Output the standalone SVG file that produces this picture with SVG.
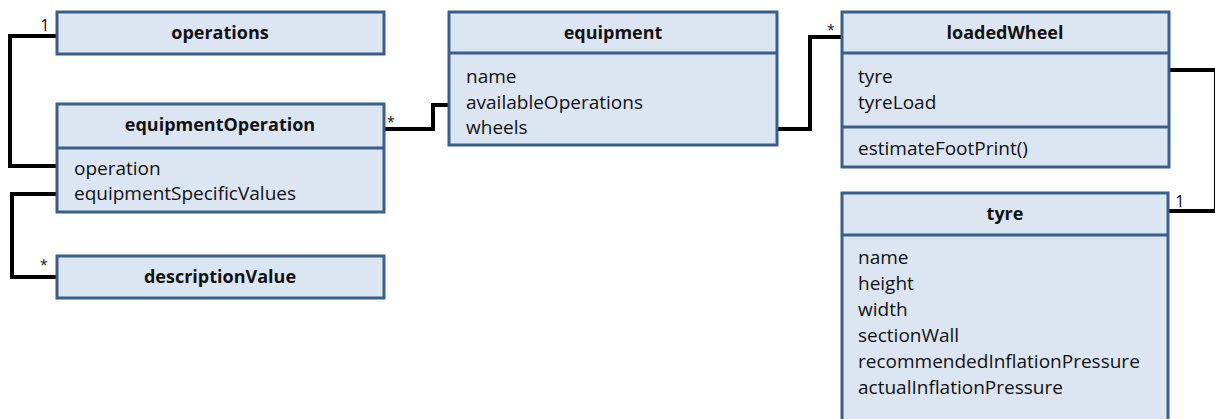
<svg xmlns="http://www.w3.org/2000/svg" width="1215" height="419" viewBox="0 0 1215 419">
<style>
.box{fill:#dce6f2;stroke:#3a5f8b;stroke-width:3}
.sep{stroke:#3a5f8b;stroke-width:3}
.t{font-family:"Open Sans","Liberation Sans",sans-serif;font-size:18px;font-weight:bold;fill:#111;text-anchor:middle}
.a{font-family:"Open Sans","Liberation Sans",sans-serif;font-size:19px;fill:#111}
.m{font-family:"Open Sans","Liberation Sans",sans-serif;font-size:17px;fill:#111}
.s{font-family:"Open Sans","Liberation Sans",sans-serif;font-size:14px;fill:#111}
.c{fill:none;stroke:#000;stroke-width:4}
</style>
<rect width="1215" height="419" fill="#fff"/>
<g id="connectors">
<path class="c" d="M57,36 H10 V166 H57"/>
<path class="c" d="M57,194 H12 V277 H57"/>
<path class="c" d="M384,129 H433 V105 H449"/>
<path class="c" d="M777,129 H810 V37 H842"/>
<path class="c" d="M1169,70 H1216 V211 H1169"/>
<text class="m" x="40" y="31">1</text>
<text class="s" x="40" y="270">*</text>
<text class="s" x="387" y="127">*</text>
<text class="s" x="827" y="35">*</text>
<text class="m" x="1175" y="207">1</text>
</g>
<g id="operations">
<rect class="box" x="57" y="12" width="327" height="42"/>
<text class="t" x="220" y="39">operations</text>
</g>
<g id="equipmentOperation">
<rect class="box" x="57" y="104" width="327" height="108"/>
<line class="sep" x1="57" y1="148" x2="384" y2="148"/>
<text class="t" x="220" y="131">equipmentOperation</text>
<text class="a" x="74" y="175">operation</text>
<text class="a" x="74" y="200">equipmentSpecificValues</text>
</g>
<g id="descriptionValue">
<rect class="box" x="57" y="256" width="327" height="42"/>
<text class="t" x="220" y="283">descriptionValue</text>
</g>
<g id="equipment">
<rect class="box" x="449" y="12" width="328" height="133"/>
<line class="sep" x1="449" y1="53" x2="777" y2="53"/>
<text class="t" x="613" y="39">equipment</text>
<text class="a" x="466" y="83">name</text>
<text class="a" x="466" y="109">availableOperations</text>
<text class="a" x="466" y="134">wheels</text>
</g>
<g id="loadedWheel">
<rect class="box" x="842" y="12" width="327" height="155"/>
<line class="sep" x1="842" y1="53" x2="1169" y2="53"/>
<line class="sep" x1="842" y1="127" x2="1169" y2="127"/>
<text class="t" x="1005" y="39">loadedWheel</text>
<text class="a" x="858" y="83">tyre</text>
<text class="a" x="858" y="109">tyreLoad</text>
<text class="a" x="858" y="155">estimateFootPrint()</text>
</g>
<g id="tyre">
<rect class="box" x="842" y="193" width="326" height="240"/>
<line class="sep" x1="842" y1="235" x2="1168" y2="235"/>
<text class="t" x="1005" y="220">tyre</text>
<text class="a" x="858" y="264">name</text>
<text class="a" x="858" y="290">height</text>
<text class="a" x="858" y="316">width</text>
<text class="a" x="858" y="342">sectionWall</text>
<text class="a" x="858" y="368">recommendedInflationPressure</text>
<text class="a" x="858" y="394">actualInflationPressure</text>
</g>
</svg>
